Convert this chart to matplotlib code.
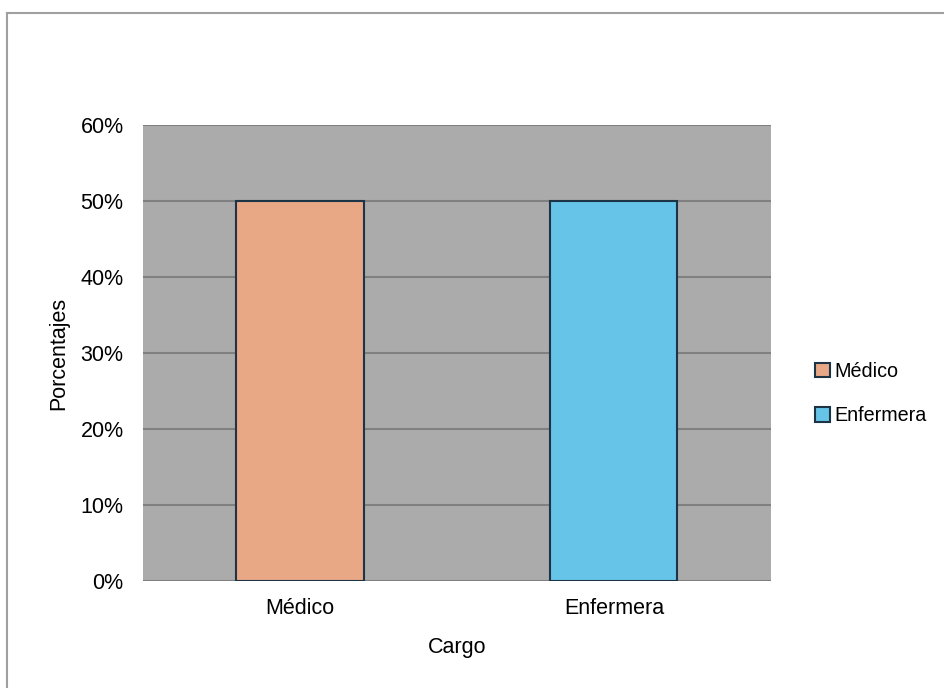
import numpy as np
from matplotlib import pyplot as plt
from matplotlib.lines import Line2D
from matplotlib.patches import Patch

plt.rcParams['font.family'] = ['Liberation Sans', 'DejaVu Sans']

cargos = ["Médico", "Enfermera"]
porcentajes = [0.50, 0.50]
colores = ["#E8A886", "#66C4E8"]

fig = plt.figure(figsize=(9.44, 6.88), dpi=100)
ax = fig.add_axes([0.1515, 0.1555, 0.665, 0.663])

x = np.arange(len(cargos))
ax.bar(x, porcentajes, width=0.405, color=colores, edgecolor="#1c3446",
       linewidth=1.5, zorder=3)

ax.set_facecolor("#ababab")
ax.set_xlim(-0.5, 1.5)
ax.set_ylim(0, 0.6)
ax.set_yticks(np.arange(0, 0.61, 0.1))
ax.set_yticklabels([f"{int(round(v*100))}%" for v in np.arange(0, 0.61, 0.1)])
ax.set_xticks(x)
ax.set_xticklabels(cargos)
ax.tick_params(axis='both', length=0, labelsize=15.5)
ax.tick_params(axis='x', pad=12)
ax.tick_params(axis='y', pad=14)
ax.grid(axis='y', color="#808080", linewidth=1.5, zorder=0)
for s in ax.spines.values():
    s.set_visible(False)

ax.set_xlabel("Cargo", fontsize=15.5, labelpad=13)
ax.set_ylabel("Porcentajes", fontsize=15.5, labelpad=8)

handles = [Patch(facecolor=c, edgecolor="#1c3446", linewidth=1.5) for c in colores]
fig.legend(handles, cargos, loc="center left", bbox_to_anchor=(0.845, 0.428),
           frameon=False, fontsize=14.2, handlelength=0.75, handleheight=0.75,
           handletextpad=0.2, labelspacing=1.3)

# marco del grafico
fig.add_artist(Line2D([0.0075, 0.0075], [0, 0.981], color="#a0a0a0", linewidth=1.5))
fig.add_artist(Line2D([0.0075, 1], [0.981, 0.981], color="#a0a0a0", linewidth=1.5))

plt.savefig("out.png", dpi=100)
